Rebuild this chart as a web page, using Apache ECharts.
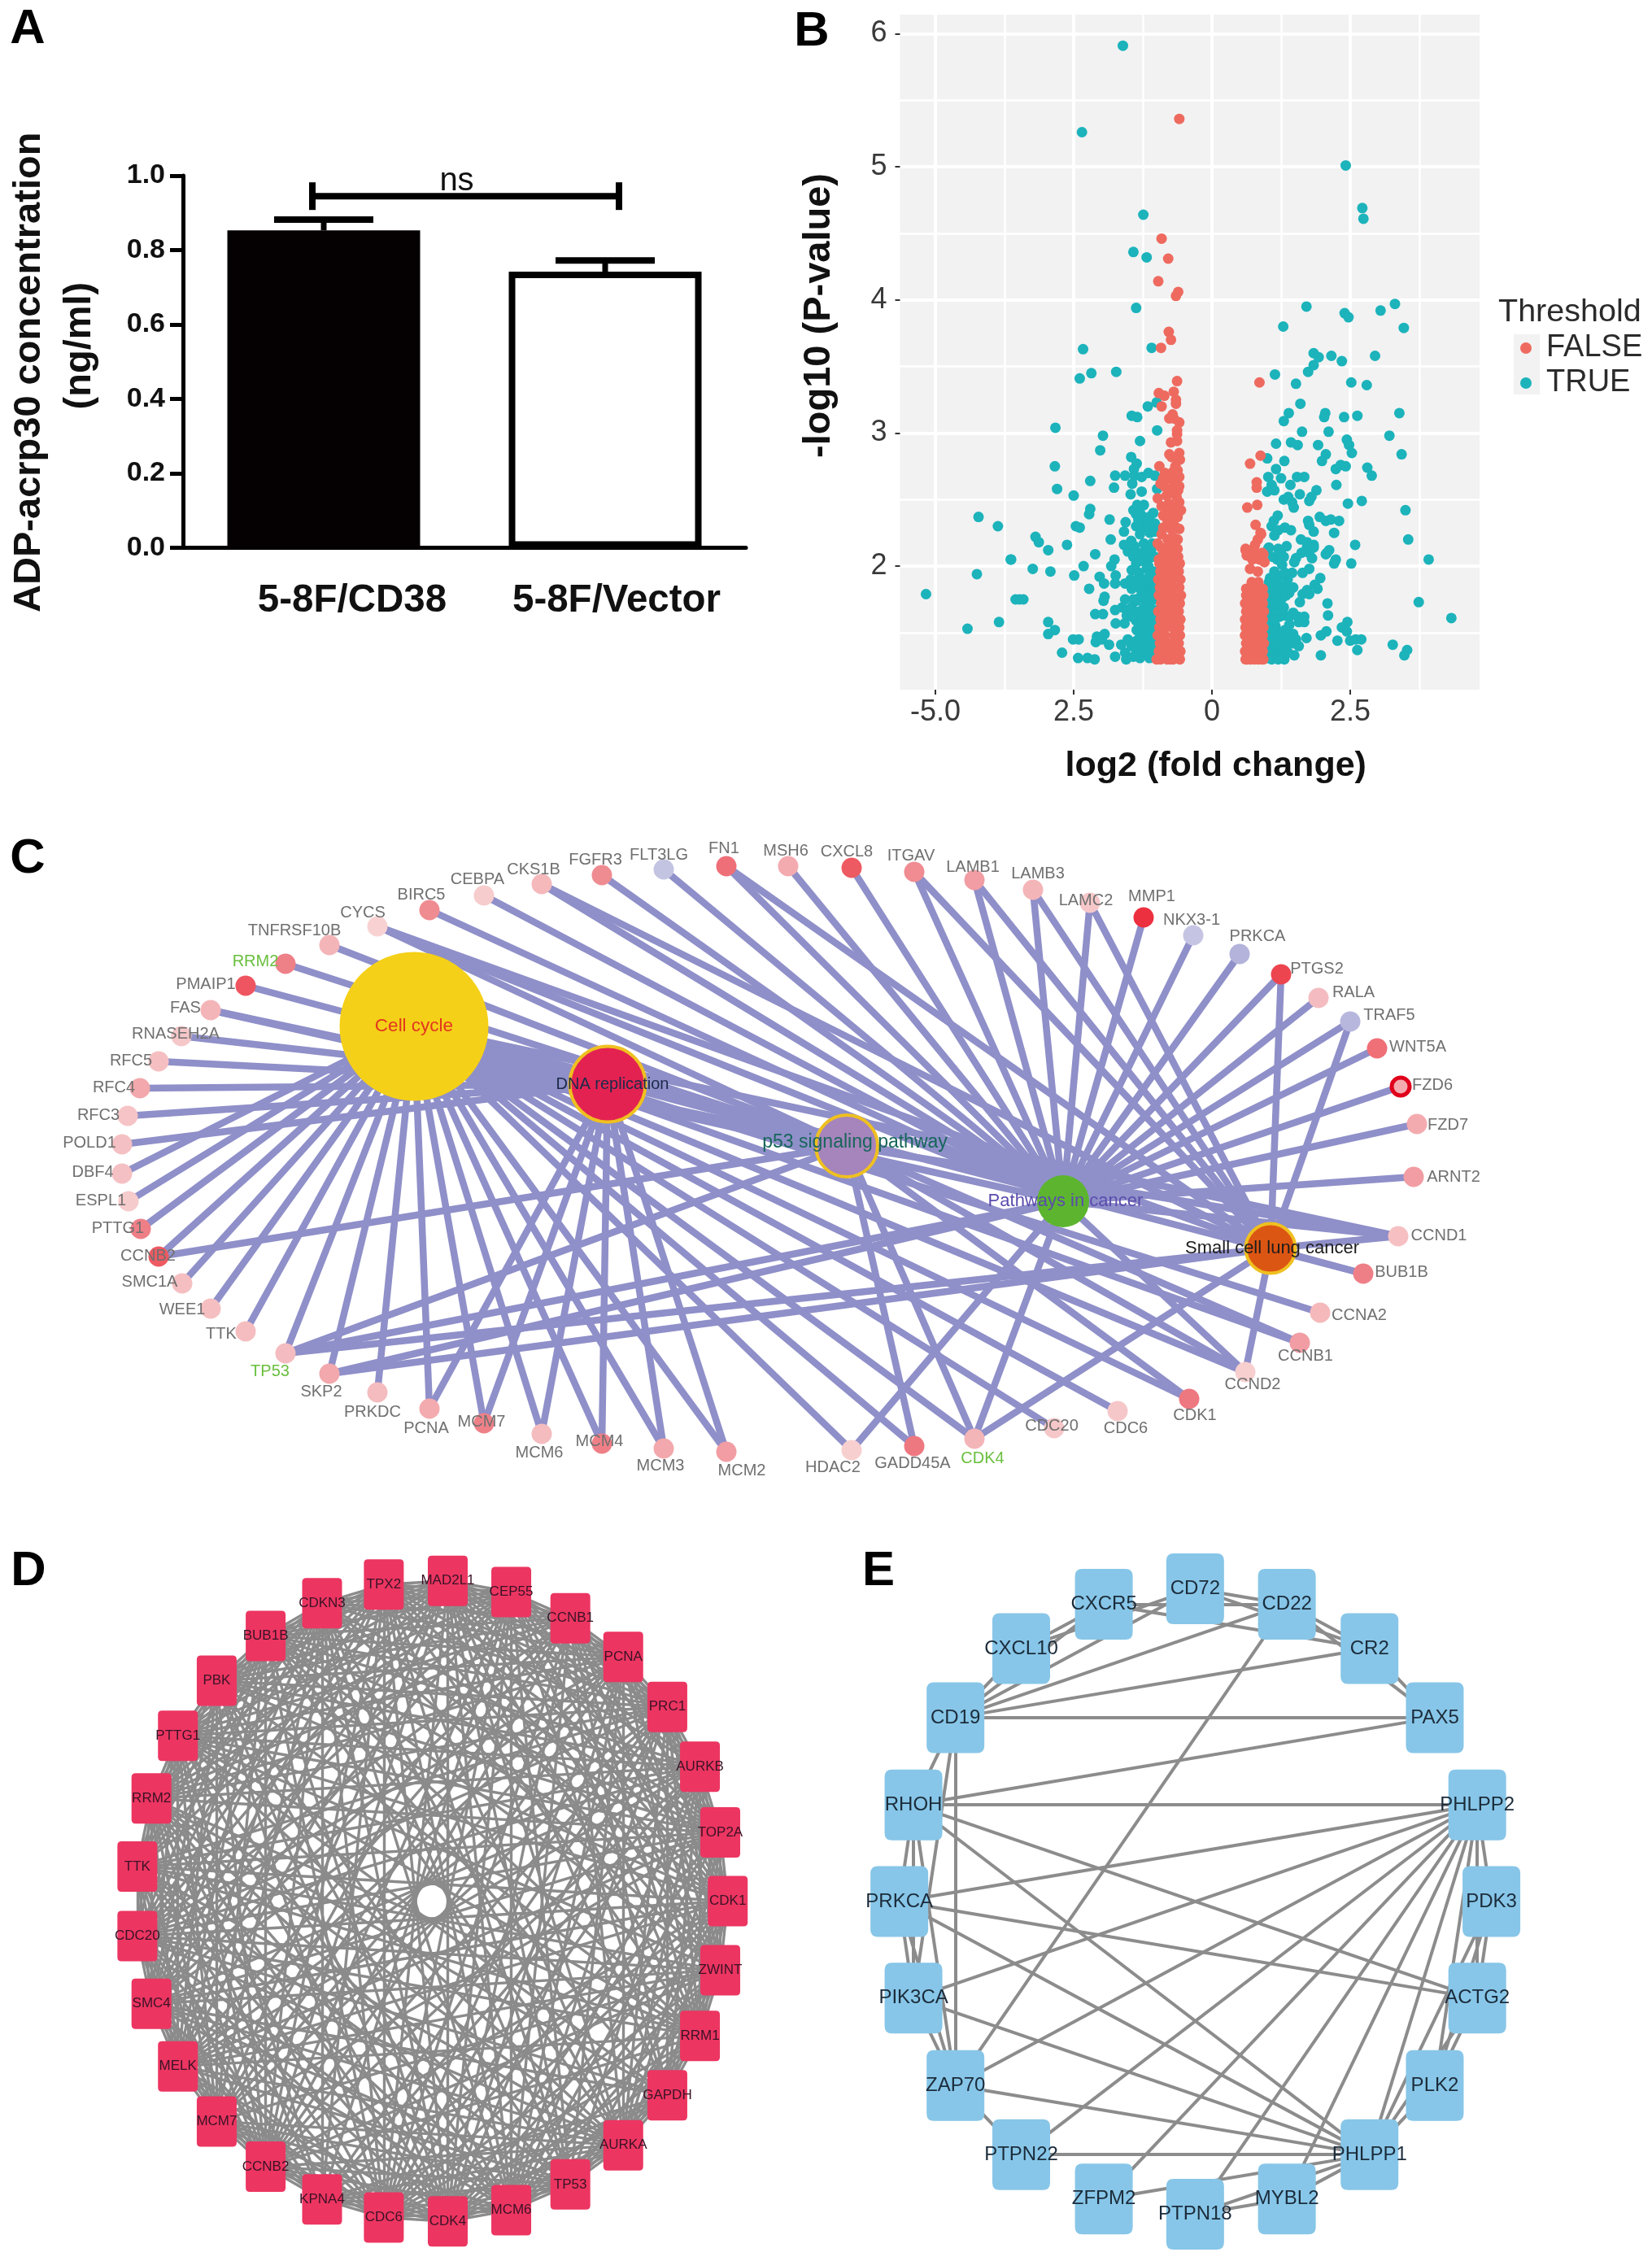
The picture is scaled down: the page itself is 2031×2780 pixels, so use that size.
<!DOCTYPE html>
<html><head><meta charset="utf-8"><style>html,body{margin:0;background:#fff}#c{width:2031px;height:2780px}</style>
<script src="https://cdn.jsdelivr.net/npm/echarts@6/dist/echarts.min.js"></script></head>
<body><div id="c"></div><script>
// ---------- Panel A ----------
const aCategories=['5-8F/CD38','5-8F/Vector'];
const aValues=[0.853,0.742];
const aErrorTop=[0.882,0.772];
const aSigValue=0.945, aSigLabel='ns';
const aTicks=[0,0.2,0.4,0.6,0.8,1.0];
// ---------- Panel B ----------
const bTrue=[[-2.33,3.63],[-2.39,3.41],[-2.18,3.45],[-1.73,3.46],[-1.16,3.20],[-1.00,3.23],[-1.45,3.13],[-1.35,3.12],[-2.83,3.04],[-0.99,3.02],[-1.97,2.98],[-1.30,2.94],[-2.02,2.87],[-1.46,2.82],[-2.84,2.75],[-1.36,2.77],[-1.41,2.73],[-1.75,2.68],[-1.57,2.68],[-1.40,2.68],[-1.27,2.67],[-1.15,2.70],[-1.03,2.68],[-2.20,2.64],[-1.44,2.62],[-2.80,2.58],[-1.77,2.59],[-0.99,2.58],[-1.27,2.56],[-1.47,2.54],[-2.50,2.53],[-2.20,2.43],[-2.22,2.39],[-1.23,2.46],[-1.30,2.43],[-1.37,2.39],[-1.27,2.38],[-1.13,2.37],[-1.85,2.35],[-1.56,2.33],[-1.37,2.30],[-1.25,2.29],[-1.03,2.32],[-2.46,2.30],[-2.39,2.29],[-1.59,2.26],[-1.03,2.26],[-3.19,2.22],[-3.13,2.18],[-1.83,2.20],[-1.46,2.19],[-2.62,2.16],[-2.96,2.12],[-2.11,2.09],[-1.59,2.16],[-1.23,2.17],[-1.08,2.17],[-1.52,2.11],[-1.20,2.12],[-1.42,2.07],[-1.76,2.05],[-3.63,2.05],[-1.27,2.07],[-1.03,2.07],
[-1.61,5.91],[-2.35,5.26],[-1.24,4.64],[-1.42,4.36],[-1.18,4.32],[-1.37,3.94],[-1.09,3.64],
[2.42,5.01],[2.72,4.69],[2.74,4.61],[1.71,3.95],[2.40,3.90],[2.47,3.87],[3.05,3.92],[3.31,3.97],[3.47,3.79],[1.29,3.80],[2.95,3.58],[1.84,3.60],[1.93,3.57],[2.16,3.58],[2.35,3.54],[1.84,3.51],[1.74,3.46],[1.14,3.44],[1.52,3.37],[2.52,3.38],[2.80,3.36],
[-3.24,1.98],[-2.92,1.96],[-2.32,2.00],[-2.49,1.93],[-1.82,2.00],[-2.03,1.92],[-1.95,1.87],[-1.74,1.93],[-1.75,1.87],[-2.22,1.83],[-1.57,1.87],[-1.45,1.97],[-1.27,2.04],[-1.13,2.06],[-1.32,1.95],[-1.18,1.98],[-1.05,1.96],[-1.47,1.90],[-1.22,1.90],[-1.10,1.86],[-1.45,1.83],[-1.18,1.81],[-1.03,1.81],[-1.94,1.77],[-1.96,1.74],[-1.57,1.75],[-1.37,1.74],[-1.23,1.76],[-1.10,1.74],[-1.00,1.75],[-3.48,1.75],[-3.55,1.75],[-3.41,1.75],[-2.11,1.64],[-1.97,1.64],[-1.75,1.67],[-1.62,1.69],[-1.52,1.67],[-1.54,1.63],[-1.27,1.62],[-1.37,1.59],[-1.13,1.65],[-1.03,1.60],[-1.15,1.58],[-2.96,1.58],[-1.74,1.57],[-1.58,1.57],[-1.10,1.53],[-2.84,1.52],[-2.96,1.49],[-2.51,1.45],[-2.41,1.45],[-1.94,1.49],[-2.08,1.47],[-2.10,1.43],[-1.99,1.45],[-1.86,1.41],[-1.52,1.45],[-1.30,1.49],[-1.18,1.45],[-1.64,1.41],[-1.57,1.35],[-1.40,1.39],[-1.27,1.40],[-1.35,1.35],[-1.08,1.40],[-1.18,1.36],[-2.71,1.35],[-2.42,1.31],[-2.25,1.31],[-2.12,1.30],[-1.75,1.32],[-1.13,1.31],[-1.00,1.35],[-1.03,1.45],
[-5.17,1.79],[-4.42,1.53],[-3.85,1.58],[-4.25,1.94],[-4.22,2.37],[-3.87,2.30],[-3.64,2.05],
[-1.37,2.02],[-1.25,1.86],[-1.03,1.88],[-1.32,1.76],[-1.45,1.69],[-1.23,1.69],[-1.05,1.67],[-1.20,1.56],[-1.03,1.53],[-1.10,1.45],[-1.22,1.40],[-1.05,1.32],
[-1.15,2.00],[-1.35,1.90],[-1.12,1.93],[-1.28,1.82],[-1.39,1.85],[-1.07,1.78],[-1.17,1.72],[-1.42,1.75],[-1.31,1.66],[-1.08,1.62],[-1.22,1.60],[-1.44,1.62],[-1.10,1.57],[-1.28,1.55],[-1.36,1.52],[-1.05,1.49],[-1.15,1.50],[-1.25,1.47],[-1.36,1.44],[-1.45,1.40],[-1.20,1.33],[-1.30,1.31],[-1.42,1.32],[-1.55,1.30],[-1.12,2.25],[-1.20,2.33],[-1.33,2.35],[-1.06,2.40],[-1.42,2.42],[-1.35,2.46],[-1.15,2.31],[-1.30,2.24],[-1.40,2.15],[-1.10,2.12],[-1.33,2.10],
[1.60,3.22],[1.39,3.15],[1.30,3.09],[2.05,3.15],[2.03,3.12],[2.39,3.12],[2.63,3.13],[3.39,3.15],[1.63,3.01],[2.11,3.01],[3.21,2.98],[1.16,2.92],[1.43,2.93],[1.55,2.91],[1.92,2.91],[2.44,2.95],[2.48,2.91],[2.53,2.85],[3.43,2.84],[2.06,2.84],[1.99,2.79],[1.00,2.81],[1.31,2.79],[1.16,2.73],[2.24,2.73],[2.33,2.76],[2.42,2.75],[2.81,2.74],[2.89,2.68],[1.02,2.67],[1.25,2.66],[1.08,2.61],[1.54,2.67],[1.67,2.67],[1.42,2.61],[2.25,2.61],[1.00,2.56],[1.13,2.57],[1.59,2.54],[1.89,2.57],[1.80,2.52],[1.76,2.49],[1.30,2.50],[1.38,2.52],[1.45,2.48],[1.48,2.44],[2.46,2.47],[2.71,2.49],[3.50,2.42],[1.19,2.38],[1.12,2.34],[1.08,2.30],[1.20,2.27],[1.32,2.29],[1.43,2.27],[1.13,2.23],[1.74,2.34],[1.76,2.31],[1.84,2.26],[1.95,2.37],[2.06,2.34],[2.15,2.35],[2.30,2.34],[2.21,2.25],[1.61,2.20],[1.72,2.18],[1.84,2.16],[3.55,2.20],[2.59,2.16],[2.12,2.12],[2.06,2.09],[1.02,2.13],[1.35,2.15],[1.25,2.12],[1.18,2.05],[1.30,2.07],[1.62,2.10],[1.76,2.10],[1.81,2.06],[1.52,2.06],[2.24,2.05],[3.92,2.05],[2.52,2.02],
[1.03,2.14],[1.20,2.13],[1.10,2.07],[1.25,2.08],[1.27,2.01],[1.49,2.03],[1.72,2.14],[1.84,2.14],[2.08,2.10],[2.23,2.04],[2.21,2.02],[1.76,1.98],[1.64,1.95],[1.96,1.91],[1.86,1.86],[1.91,1.83],[1.13,1.96],[1.05,1.91],[1.25,1.93],[1.45,1.95],[1.37,1.90],[1.47,1.84],[1.10,1.85],[1.25,1.83],[1.72,1.82],[1.64,1.79],[1.76,1.79],[1.59,1.73],[2.09,1.72],[3.74,1.73],[1.10,1.77],[1.27,1.76],[1.40,1.80],[1.15,1.69],[1.08,1.63],[1.32,1.63],[1.40,1.62],[2.10,1.63],[1.67,1.62],[1.57,1.58],[1.67,1.58],[2.45,1.58],[2.35,1.54],[2.44,1.51],[1.40,1.56],[1.08,1.54],[1.18,1.49],[1.32,1.52],[1.47,1.49],[1.05,1.46],[1.25,1.45],[1.40,1.45],[1.71,1.46],[1.97,1.48],[2.07,1.51],[2.27,1.44],[2.50,1.44],[2.60,1.45],[2.70,1.45],[2.63,1.37],[3.27,1.41],[3.53,1.37],[3.48,1.33],[1.57,1.40],[1.49,1.33],[1.97,1.33],[1.31,1.30],[1.13,1.31],[1.00,1.31],[1.18,1.37],[1.03,1.39],[1.32,1.38],[4.33,1.61],[1.12,1.74],[1.18,1.87],[1.33,1.86],[1.22,1.62],[1.10,1.42],[1.30,1.34],[1.15,1.55],
[1.03,1.88],[1.16,1.92],[1.32,1.95],[1.05,1.80],[1.20,1.80],[1.34,1.78],[1.02,1.72],[1.22,1.72],[1.30,1.69],[1.03,1.66],[1.17,1.64],[1.03,1.58],[1.14,1.60],[1.03,1.52],[1.14,1.51],[1.26,1.50],[1.36,1.49],[1.03,1.43],[1.15,1.44],[1.32,1.43],[1.45,1.42],[1.03,1.35],[1.10,1.33],[1.22,1.41],[1.26,1.36],[1.38,1.35],[1.08,1.30],[1.20,1.30],[1.52,1.45],[1.56,1.62],[1.47,1.65]];
const bFalse=[[-0.59,5.36],[-0.91,4.46],[-0.79,4.31],[-0.97,4.14],[-0.61,4.06],[-0.65,4.03],[-0.78,3.76],[-0.74,3.70],[-0.92,3.64],[-0.63,3.39],[0.86,3.38],
[-0.96,3.30],[-0.86,3.28],[-0.69,3.31],[-0.65,3.25],[-0.65,3.22],[-0.91,3.20],[-0.71,3.14],[-0.77,3.11],[-0.69,3.11],[-0.59,3.08],[-0.63,3.02],[-0.63,2.99],[-0.74,2.93],[-0.63,2.94],[-0.77,2.84],[-0.59,2.85],[-0.58,2.80],[-0.73,2.82],[-0.95,2.75],[-0.66,2.75],[-0.59,2.67],[-0.88,2.66],[-0.78,2.66],[-0.69,2.64],[-0.93,2.62],[-0.59,2.60],[-0.74,2.58],[-0.61,2.57],[-0.71,2.55],[-0.98,2.51],[-0.91,2.45],[-0.59,2.48],[-0.56,2.42],[-0.74,2.40],[-0.81,2.43],[-0.69,2.36],[-0.88,2.29],[-0.74,2.28],[-0.59,2.28],[-0.91,2.24],[-0.71,2.22],[-0.98,2.17],[-0.69,2.16],[-0.88,2.09],[-0.74,2.09],[-0.61,2.07],[-0.96,2.05],
[-0.86,2.60],[-0.67,2.60],[-0.82,2.53],[-0.64,2.52],[-0.78,2.47],[-0.66,2.45],[-0.88,2.38],[-0.62,2.37],[-0.80,2.33],[-0.67,2.30],[-0.80,2.20],[-0.62,2.20],[-0.92,2.14],[-0.82,2.13],[-0.62,2.13],[-0.76,2.04],[-0.85,2.70],[-0.70,2.71],[-0.62,2.72],
[-0.95,2.02],[-0.83,2.02],[-0.70,2.02],[-0.58,2.02],[-0.93,1.96],[-0.80,1.96],[-0.68,1.96],[-0.60,1.96],[-0.97,1.90],[-0.85,1.90],[-0.72,1.90],[-0.57,1.90],[-0.94,1.84],[-0.82,1.84],[-0.69,1.84],[-0.59,1.84],[-0.96,1.78],[-0.84,1.78],[-0.71,1.78],[-0.56,1.78],[-0.92,1.72],[-0.80,1.72],[-0.67,1.72],[-0.58,1.72],[-0.97,1.66],[-0.86,1.66],[-0.73,1.66],[-0.60,1.66],[-0.93,1.60],[-0.81,1.60],[-0.69,1.60],[-0.57,1.60],[-0.95,1.54],[-0.83,1.54],[-0.71,1.54],[-0.59,1.54],[-0.98,1.48],[-0.85,1.48],[-0.68,1.48],[-0.58,1.48],[-0.94,1.42],[-0.80,1.42],[-0.72,1.42],[-0.60,1.42],[-0.96,1.36],[-0.84,1.36],[-0.69,1.36],[-0.57,1.36],[-0.93,1.30],[-0.81,1.30],[-0.70,1.30],[-0.58,1.30],[-1.00,1.30],[-0.75,1.30],
[0.88,2.83],[0.69,2.77],[0.81,2.63],[0.81,2.59],[0.82,2.46],[0.64,2.44],[0.79,2.31],[0.89,2.24],[0.61,2.12],[0.78,2.16],[0.81,2.09],[0.93,2.09],[0.83,2.20],[0.88,2.25],[0.61,2.13],[0.76,2.13],[0.91,2.10],[0.73,2.05],[0.95,2.03],[0.69,1.98],[0.83,1.96],[0.63,2.08],[0.86,2.05],
[0.72,1.88],[0.84,1.88],[0.62,1.83],[0.70,1.83],[0.82,1.83],[0.92,1.83],[0.62,1.78],[0.74,1.78],[0.86,1.78],[0.93,1.78],[0.60,1.72],[0.69,1.72],[0.83,1.72],[0.92,1.72],[0.62,1.66],[0.73,1.66],[0.85,1.66],[0.94,1.66],[0.60,1.60],[0.70,1.60],[0.82,1.60],[0.92,1.60],[0.61,1.54],[0.74,1.54],[0.86,1.54],[0.93,1.54],[0.60,1.48],[0.69,1.48],[0.83,1.48],[0.92,1.48],[0.62,1.42],[0.72,1.42],[0.85,1.42],[0.94,1.42],[0.60,1.36],[0.71,1.36],[0.82,1.36],[0.92,1.36],[0.61,1.30],[0.70,1.30],[0.84,1.30],[0.93,1.30],[0.64,1.30],[0.77,1.30],[0.90,1.30]];
const bXTicks=[-5,-2.5,0,2.5], bXTickLabels=['-5.0','2.5','0','2.5'];
const bYTicks=[2,3,4,5,6];
const bXMinor=[-3.75,-1.25,1.25,3.75], bYMinor=[1.5,2.5,3.5,4.5,5.5];
// ---------- Panel C (network layout units) ----------
const cHubs=['Cell cycle','DNA replication','p53 signaling pathway','Pathways in cancer','Small cell lung cancer'];
const cHubX=[509,747,1041,1307,1562], cHubY=[1262,1333,1409,1477,1535];
const cGenes=['FLT3LG','FGFR3','CKS1B','CEBPA','BIRC5','CYCS','TNFRSF10B','RRM2','PMAIP1','FAS','RNASEH2A','RFC5','RFC4','RFC3','POLD1','DBF4','ESPL1','PTTG1','CCNB2','SMC1A','WEE1','TTK','TP53','SKP2','PRKDC','PCNA','MCM7','MCM6','MCM4','MCM3','MCM2','FN1','MSH6','CXCL8','ITGAV','LAMB1','LAMB3','LAMC2','MMP1','NKX3-1','PRKCA','PTGS2','RALA','TRAF5','WNT5A','FZD6','FZD7','ARNT2','CCND1','BUB1B','CCNA2','CCNB1','CCND2','CDK1','CDC6','CDC20','CDK4','GADD45A','HDAC2'];
const cGeneX=[816,740,666,595,528,464,405,351,302,259,223,195,172,157,150,150,158,173,195,224,259,302,351,405,464,528,595,666,740,816,893,893,969,1047,1124,1198,1270,1340,1406,1467,1524,1575,1621,1660,1693,1722,1742,1738,1719,1676,1623,1598,1531,1462,1374,1296,1198,1124,1047];
const cGeneY=[1069,1076,1087,1101,1119,1139,1162,1185,1212,1242,1274,1305,1338,1372,1407,1443,1477,1511,1545,1578,1609,1637,1664,1689,1712,1732,1750,1763,1775,1781,1785,1065,1065,1067,1072,1082,1094,1110,1128,1150,1173,1198,1227,1256,1289,1336,1382,1447,1520,1566,1614,1651,1687,1720,1735,1756,1769,1778,1783];
const cLabelX=[810,732,656,587,518,446,362,314,253,228,216,161,140,121,110,114,124,145,182,184,224,272,332,395,458,524,592,663,737,812,912,890,966,1041,1120,1196,1276,1335,1416,1465,1546,1619,1664,1708,1743,1761,1780,1787,1769,1723,1671,1605,1540,1469,1384,1293,1208,1122,1024];
const cLabelY=[1051,1057,1069,1081,1100,1122,1144,1182,1210,1239,1271,1304,1337,1371,1405,1441,1476,1510,1544,1576,1610,1640,1686,1711,1736,1756,1748,1786,1772,1802,1808,1043,1046,1047,1052,1066,1074,1107,1102,1131,1151,1191,1220,1248,1287,1334,1383,1447,1519,1564,1617,1667,1702,1740,1756,1753,1793,1799,1804];
const cGeneColor=['#C3C3E2','#EF8C91','#F5B9BC','#F6CCCC','#EF8C91','#F8D2D2','#F4B5B8','#EE8088','#EF5560','#F4B5B8','#F6C7C9','#F5BFC1','#F2A8AC','#F6C4C6','#F5C0C3','#F5C0C3','#F6CBCC','#EF7F87','#EE5A62','#F5BFC1','#F5BFC1','#F5BDC0','#F4BCC0','#F2A8AC','#F4BCBF','#F4ABAF','#EE8088','#F4BCBF','#EF7F87','#F2A8AC','#F19DA3','#EE6F78','#F4ABAF','#EE5A62','#F08C92','#F19DA3','#F4B5B8','#F6C7C9','#EC3040','#C5C5E3','#B3B3DC','#EC4550','#F4BCC0','#B7B7DE','#F07078','#F4ABAF','#F4ABAF','#F19DA3','#F6C0C3','#EF7F87','#F5B9BC','#F19DA3','#F8CFCF','#EE7880','#F6C7C9','#F6C7C9','#F4B5B8','#EE7880','#F8CFCF'];
const cGreenLabels=['RRM2','TP53','CDK4'];
const cEdges={
 'Cell cycle':['DBF4','ESPL1','PTTG1','CCNB2','SMC1A','WEE1','TTK','TP53','SKP2','PRKDC','PCNA','MCM7','MCM6','MCM4','MCM3','MCM2','HDAC2','GADD45A','CDK4','CDC20','CDC6','CDK1','CCND2','CCNB1','CCNA2','BUB1B','CCND1'],
 'DNA replication':['RNASEH2A','RFC5','RFC4','RFC3','POLD1','PCNA','MCM7','MCM6','MCM4','MCM3','MCM2'],
 'p53 signaling pathway':['TNFRSF10B','RRM2','PMAIP1','FAS','CCNB2','TP53','CYCS','CCNB1','CDK1','CCND1','CCND2','GADD45A','CDK4'],
 'Pathways in cancer':['FAS','TP53','SKP2','CYCS','BIRC5','CEBPA','CKS1B','FGFR3','FLT3LG','FN1','MSH6','CXCL8','ITGAV','LAMB1','LAMB3','LAMC2','MMP1','NKX3-1','PRKCA','PTGS2','RALA','TRAF5','WNT5A','FZD6','FZD7','ARNT2','CCND1','CCND2','CDK4','HDAC2'],
 'Small cell lung cancer':['TP53','SKP2','CYCS','CKS1B','FN1','ITGAV','LAMB1','LAMB3','LAMC2','PTGS2','TRAF5','CCND1','CCND2','CDK4','BUB1B']
};
// ---------- Panel D (layout units) ----------
const dNames=['MAD2L1','CEP55','CCNB1','PCNA','PRC1','AURKB','TOP2A','CDK1','ZWINT','RRM1','GAPDH','AURKA','TP53','MCM6','CDK4','CDC6','KPNA4','CCNB2','MCM7','MELK','SMC4','CDC20','TTK','RRM2','PTTG1','PBK','BUB1B','CDKN3','TPX2'];
const dX=[831,975,1109,1229,1329,1403,1449,1466,1449,1403,1329,1229,1109,975,831,686,546,418,307,219,159,127,127,159,219,307,418,546,686];
const dY=[111,135,191,274,381,509,650,797,945,1086,1213,1320,1404,1459,1483,1475,1436,1366,1269,1151,1017,872,723,577,443,325,229,159,119];
const dMissingEdges=[['MAD2L1','KPNA4'],['CEP55','MELK'],['CCNB1','TTK'],['PCNA','GAPDH'],['PRC1','SMC4'],['AURKB','CDK4'],['TOP2A','KPNA4'],['CDK1','RRM2'],['ZWINT','PBK'],['RRM1','CDKN3'],['GAPDH','TPX2'],['AURKA','CEP55'],['TP53','PRC1'],['MCM6','MELK'],['CDK4','SMC4'],['CDC6','PTTG1'],['KPNA4','BUB1B'],['CCNB2','TOP2A'],['MCM7','AURKB'],['MELK','GAPDH'],['SMC4','RRM1'],['CDC20','TP53'],['TTK','PCNA'],['RRM2','ZWINT'],['PTTG1','TP53'],['PBK','AURKA'],['BUB1B','MCM6'],['CDKN3','AURKB'],['TPX2','MCM7'],['KPNA4','PCNA'],['KPNA4','CCNB1'],['KPNA4','RRM1'],['KPNA4','ZWINT'],['KPNA4','TTK'],['KPNA4','PBK'],['KPNA4','MAD2L1'],['GAPDH','TTK'],['GAPDH','PBK'],['GAPDH','CDKN3'],['GAPDH','MCM7'],['GAPDH','CCNB2'],['TP53','BUB1B'],['TP53','TOP2A'],['TP53','CCNB1'],['MCM7','RRM1'],['MCM7','CDK1'],['PBK','CDC20'],['PBK','ZWINT']];
// ---------- Panel E (layout units) ----------
const eNames=['CD72','CD22','CR2','PAX5','PHLPP2','PDK3','ACTG2','PLK2','PHLPP1','MYBL2','PTPN18','ZFPM2','PTPN22','ZAP70','PIK3CA','PRKCA','RHOH','CD19','CXCL10','CXCR5'];
const eX=[765,966,1147,1290,1383,1414,1383,1290,1147,966,765,565,384,240,148,117,148,240,384,565];
const eY=[128,161,256,404,591,798,1005,1192,1340,1435,1468,1435,1340,1192,1005,798,591,404,256,161];
const eEdges=[['CXCR5','CD22'],['CXCR5','CR2'],['CD72','CD22'],['CD72','CR2'],['CD22','CR2'],['CD22','PAX5'],['CR2','PAX5'],['CXCL10','CXCR5'],['CXCL10','CD72'],['CD19','CXCL10'],['CD19','CXCR5'],['CD19','CD72'],['CD19','CD22'],['CD19','CR2'],['CD19','PAX5'],['CD19','RHOH'],['CD19','ZAP70'],['CD19','PIK3CA'],['CD22','ZAP70'],['RHOH','PAX5'],['RHOH','PHLPP2'],['RHOH','ACTG2'],['RHOH','PHLPP1'],['RHOH','PRKCA'],['RHOH','PIK3CA'],['RHOH','ZAP70'],['PRKCA','PHLPP2'],['PRKCA','ACTG2'],['PRKCA','PHLPP1'],['PRKCA','PIK3CA'],['PRKCA','ZAP70'],['PIK3CA','PHLPP2'],['PIK3CA','PHLPP1'],['PIK3CA','ZAP70'],['ZAP70','PHLPP2'],['ZAP70','PHLPP1'],['ZAP70','PTPN22'],['PTPN22','PHLPP2'],['PTPN22','PHLPP1'],['ZFPM2','PHLPP2'],['ZFPM2','PHLPP1'],['PTPN18','PHLPP2'],['PTPN18','MYBL2'],['PTPN18','PHLPP1'],['MYBL2','PHLPP2'],['MYBL2','PHLPP1'],['PHLPP1','PHLPP2'],['PLK2','PHLPP2'],['PLK2','PHLPP1'],['PLK2','ACTG2'],['PLK2','PDK3'],['PDK3','PHLPP2'],['PDK3','ACTG2'],['ACTG2','PHLPP2'],['ACTG2','PHLPP1'],['PDK3','PHLPP1']];
// ---------- Panel letters ----------
const panelLetters=['A','B','C','D','E'];

// ---------- Styles & option ----------
const SANS='"Liberation Sans",Arial,sans-serif';
const hubStyle=[
 {size:183,fill:'#F5D018',border:null,label:'#E2361F',dx:0,dy:0,font:22.5},
 {size:93,fill:'#E32252',border:'#EFC020',label:'#1B2A4A',dx:6,dy:0,font:20},
 {size:76,fill:'#A684BC',border:'#EFC020',label:'#17665A',dx:10,dy:-4,font:23},
 {size:64,fill:'#5DB52F',border:null,label:'#5A4CAD',dx:3,dy:0,font:22},
 {size:61,fill:'#DC5613',border:'#EFC020',label:'#1C1C1C',dx:2,dy:0,font:22}];
const roundRect=(w,h,r)=>`path://M${r} 0H${w-r}Q${w} 0 ${w} ${r}V${h-r}Q${w} ${h} ${w-r} ${h}H${r}Q0 ${h} 0 ${h-r}V${r}Q0 0 ${r} 0Z`;

const cNodes=[
 ...cGenes.map((g,i)=>({name:g,value:[cGeneX[i],cGeneY[i]],symbolSize:g==='FZD6'?22:25,
   itemStyle:{color:cGeneColor[i],borderColor:g==='FZD6'?'#E0001B':cGeneColor[i],borderWidth:g==='FZD6'?5:0},
   label:{show:true,position:'inside',offset:[cLabelX[i]-cGeneX[i],cLabelY[i]-cGeneY[i]],fontFamily:SANS,fontSize:20,color:cGreenLabels.includes(g)?'#6ABF3E':'#707070'}})),
 ...cHubs.map((h,i)=>({name:h,value:[cHubX[i],cHubY[i]],symbolSize:hubStyle[i].size,
   itemStyle:{color:hubStyle[i].fill,borderColor:hubStyle[i].border||hubStyle[i].fill,borderWidth:hubStyle[i].border?4:0},
   label:{show:true,position:'inside',offset:[hubStyle[i].dx,hubStyle[i].dy],fontFamily:SANS,fontSize:hubStyle[i].font,color:hubStyle[i].label}}))];
const cLinks=[];
Object.keys(cEdges).forEach(h=>cEdges[h].forEach(g=>cLinks.push({source:h,target:g})));

const dNodes=dNames.map((n,i)=>({name:n,value:[dX[i],dY[i]]}));
const dLinks=[];
dNames.forEach((a,i)=>dNames.forEach((b,j)=>{ if(j>i && !dMissingEdges.some(e=>(e[0]===a&&e[1]===b)||(e[0]===b&&e[1]===a))) dLinks.push({source:a,target:b}); }));
const eNodes=eNames.map((n,i)=>({name:n,value:[eX[i],eY[i]]}));
const eLinks=eEdges.map(e=>({source:e[0],target:e[1]}));

const netAxis=(gridIndex,min,max,inverse)=>({type:'value',gridIndex,min,max,inverse,show:false,splitLine:{show:false}});
const netSeries=(name,xi,nodes,links,extra)=>Object.assign({type:'graph',name,coordinateSystem:'cartesian2d',xAxisIndex:xi,yAxisIndex:xi,layout:'none',silent:true,roam:false,animation:false,nodes,links,edgeSymbol:['none','none'],emphasis:{disabled:true}},extra);

const option={animation:false,backgroundColor:'#fff',textStyle:{fontFamily:SANS},
 legend:{data:['FALSE','TRUE'],orient:'vertical',left:1864,top:404,itemWidth:14,itemHeight:14,itemGap:5,icon:'circle',selectedMode:false,textStyle:{fontSize:38,color:'#2b2b2b',fontFamily:SANS,padding:[0,0,0,13]}},
 grid:[
  {left:225,top:216,width:692,height:457.5,outerBoundsMode:'none',containLabel:false},
  {left:1106.5,top:18,width:712.5,height:830,show:true,backgroundColor:'#F2F2F2',borderWidth:0,outerBoundsMode:'none'},
  {left:0,top:1000,width:2031,height:850,outerBoundsMode:'none'},
  {left:100,top:1880,width:850,height:900,outerBoundsMode:'none'},
  {left:1040,top:1880,width:880,height:900,outerBoundsMode:'none'}],
 xAxis:[
  {type:'category',gridIndex:0,data:[{value:aCategories[0],textStyle:{padding:[0,0,0,70]}},{value:aCategories[1],textStyle:{padding:[0,0,0,28]}}],
   axisLine:{lineStyle:{color:'#000',width:5}},axisTick:{alignWithLabel:true,length:16,lineStyle:{color:'#000',width:5}},
   axisLabel:{interval:0,margin:41,fontSize:47.5,fontWeight:'bold',color:'#111',fontFamily:SANS}},
  {type:'value',gridIndex:1,min:-5.64,max:4.84,
   axisLine:{show:false,onZero:false},axisTick:{customValues:bXTicks,length:6,lineStyle:{color:'#333',width:2}},
   axisLabel:{customValues:bXTicks,formatter:v=>bXTickLabels[bXTicks.indexOf(v)],margin:10,fontSize:36,color:'#3A3A3A',fontFamily:SANS},
   splitLine:{show:true,lineStyle:{color:'#fff',width:4}},
   name:'log2 (fold change)',nameLocation:'middle',nameGap:73,nameTextStyle:{fontSize:43,fontWeight:'bold',color:'#111',fontFamily:SANS,padding:[0,0,0,64]}},
  netAxis(2,0,2031,false),netAxis(3,0,1568,false),netAxis(4,0,1568,false)],
 yAxis:[
  {type:'value',gridIndex:0,min:0,max:1,interval:0.2,
   axisLine:{show:true,lineStyle:{color:'#000',width:5}},axisTick:{show:true,length:16,lineStyle:{color:'#000',width:5}},splitLine:{show:false},
   axisLabel:{formatter:v=>v.toFixed(1),margin:22,fontSize:34,fontWeight:'bold',color:'#111',fontFamily:SANS},
   name:'ADP-acrp30 concentration\n     (ng/ml)',nameLocation:'middle',nameGap:96,nameRotate:90,nameTextStyle:{fontSize:47,lineHeight:62,fontWeight:'bold',color:'#111',fontFamily:SANS,padding:[0,26,0,0]}},
  {type:'value',gridIndex:1,min:1.072,max:6.143,
   axisLine:{show:false,onZero:false},axisTick:{show:true,customValues:bYTicks,length:6,lineStyle:{color:'#333',width:2}},
   axisLabel:{customValues:bYTicks,margin:16,fontSize:36,color:'#3A3A3A',fontFamily:SANS},
   splitLine:{show:true,lineStyle:{color:'#fff',width:4}},
   name:'-log10 (P-value)',nameLocation:'middle',nameGap:76,nameRotate:90,nameTextStyle:{fontSize:47,fontWeight:'bold',color:'#111',fontFamily:SANS,padding:[0,0,0,90]}},
  netAxis(2,1000,1850,true),netAxis(3,0,1568,true),netAxis(4,0,1568,true)],
 series:[
  {type:'bar',name:'A',xAxisIndex:0,yAxisIndex:0,barWidth:237,silent:true,z:3,
   data:[{value:aValues[0],itemStyle:{color:'#050102',borderColor:'#050102',borderWidth:8}},{value:aValues[1],itemStyle:{color:'#fff',borderColor:'#000',borderWidth:8}}]},
  {type:'custom',name:'err',xAxisIndex:0,yAxisIndex:0,silent:true,z:2,encode:{x:0,y:[1,2]},
   data:aValues.map((v,i)=>[i,v,aErrorTop[i]]),
   renderItem:(p,api)=>{const i=api.value(0);const a=api.coord([i,api.value(1)]);const b=api.coord([i,api.value(2)]);
     return {type:'group',children:[
       {type:'line',shape:{x1:a[0],y1:a[1],x2:b[0],y2:b[1]},style:{stroke:'#000',lineWidth:7}},
       {type:'line',shape:{x1:b[0]-61,y1:b[1],x2:b[0]+61,y2:b[1]},style:{stroke:'#000',lineWidth:8}}]};}},
  {type:'custom',name:'sig',xAxisIndex:0,yAxisIndex:0,silent:true,z:4,encode:{x:0,y:1},
   data:[[0,aSigValue,aSigLabel]],
   renderItem:(p,api)=>{const a=api.coord([0,api.value(1)]);const b=api.coord([1,api.value(1)]);const x1=a[0]-14,x2=b[0]+17,y=a[1];
     return {type:'group',children:[
       {type:'line',shape:{x1,y1:y,x2,y2:y},style:{stroke:'#000',lineWidth:8}},
       {type:'line',shape:{x1,y1:y-17,x2:x1,y2:y+17},style:{stroke:'#000',lineWidth:8}},
       {type:'line',shape:{x1:x2,y1:y-17,x2,y2:y+17},style:{stroke:'#000',lineWidth:8}},
       {type:'text',style:{text:aSigLabel,x:(x1+x2)/2-11,y:y-18,textAlign:'center',textVerticalAlign:'middle',font:'40px '+SANS,fill:'#111'}}]};}},
  {type:'scatter',name:'TRUE',xAxisIndex:1,yAxisIndex:1,data:bTrue,symbolSize:13,itemStyle:{color:'#1CB3BB',opacity:1},silent:true,z:3},
  {type:'scatter',name:'FALSE',xAxisIndex:1,yAxisIndex:1,data:bFalse,symbolSize:13,itemStyle:{color:'#EE6A5F',opacity:1},silent:true,z:4},
  {type:'scatter',name:'minorGrid',xAxisIndex:1,yAxisIndex:1,data:[],silent:true,z:1,
   markLine:{silent:true,symbol:'none',z:1,label:{show:false},lineStyle:{color:'#fff',width:2.5,type:'solid'},animation:false,
     data:[...bXMinor.map(v=>({xAxis:v})),...bYMinor.map(v=>({yAxis:v}))]}},
  netSeries('C',2,cNodes,cLinks,{lineStyle:{color:'#8F8FC9',width:8.5,opacity:1,curveness:0}}),
  netSeries('D',3,dNodes,dLinks,{symbol:roundRect(49,62,5),symbolSize:[49,62],itemStyle:{color:'#EC3561'},
    lineStyle:{color:'#8B8B8B',width:3.4,opacity:1,curveness:0},
    label:{show:true,position:'inside',fontFamily:SANS,fontSize:17,color:'#3A1226'}}),
  netSeries('E',4,eNodes,eLinks,{symbol:roundRect(71,87,9),symbolSize:[71,87],itemStyle:{color:'#87C6E8'},
    lineStyle:{color:'#8C8C8C',width:4,opacity:1,curveness:0},
    label:{show:true,position:'inside',fontFamily:SANS,fontSize:24,color:'#1B2B3A'}})
 ],
 graphic:{elements:[
  {type:'rect',z:0,silent:true,shape:{x:1861,y:411,width:32,height:74},style:{fill:'#F2F2F2'}},
  {type:'text',silent:true,z:5,style:{text:'Threshold',x:1842,y:384,textVerticalAlign:'middle',font:'39.5px '+SANS,fill:'#2b2b2b'}},
  ...panelLetters.map((t,i)=>({type:'text',silent:true,z:10,style:{text:t,x:[34,998,34,35,1080][i],y:[36,39,1056,1932,1932][i],textAlign:'center',textVerticalAlign:'middle',font:'bold 60px '+SANS,fill:'#000'}}))
 ]}
};
const chart=echarts.init(document.getElementById('c'),null,{renderer:'canvas',width:2031,height:2780});
chart.setOption(option);
</script></body></html>
